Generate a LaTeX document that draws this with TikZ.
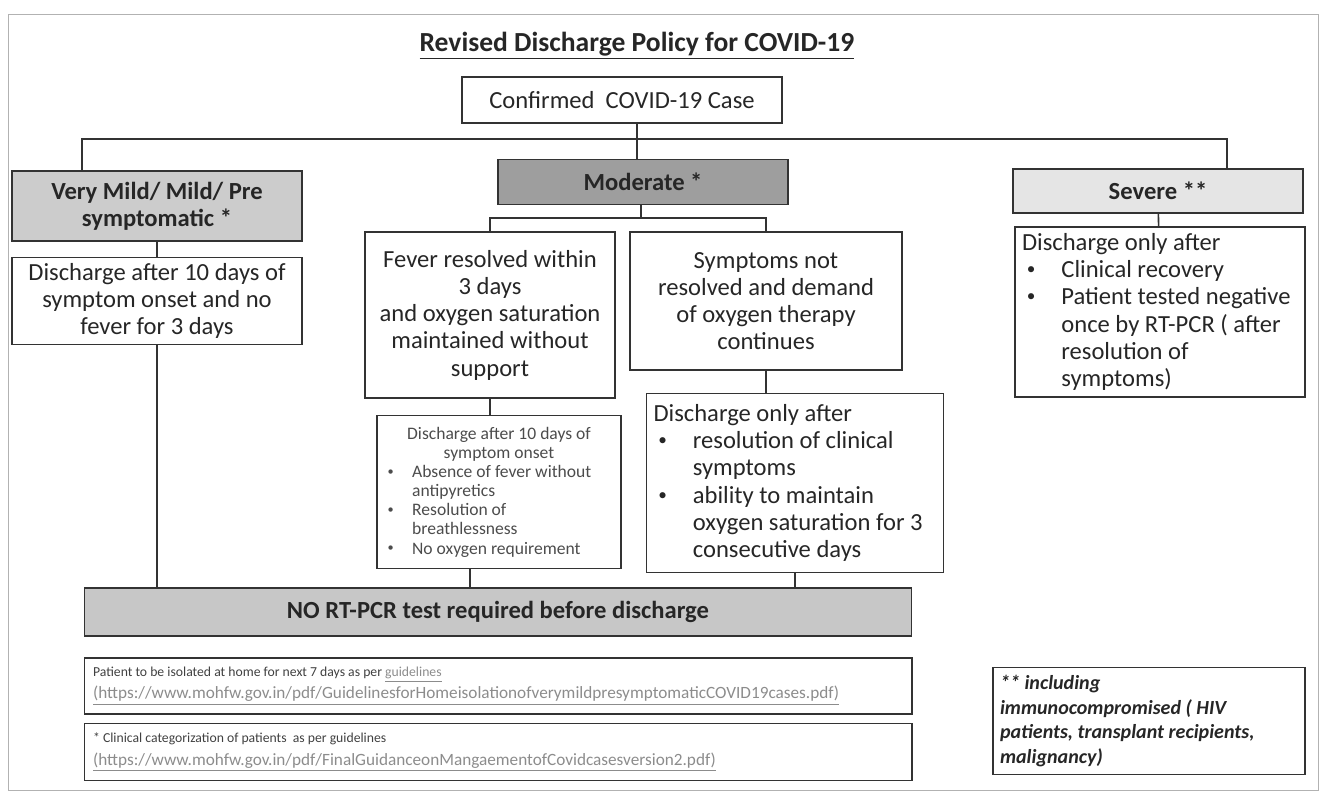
\documentclass[tikz,border=0pt]{standalone}
\usepackage{fontspec}
\setmainfont{Carlito}
\usetikzlibrary{positioning}
\newcommand{\bul}{\makebox[1.6em][l]{\hspace{0.2em}\raisebox{0.12em}{\scalebox{0.7}{\textbullet}}}}
\newcommand{\hang}{\hspace*{1.6em}}
\newcommand{\lft}[1]{\makebox[\hsize][l]{#1}}
\newcommand{\lnk}[1]{\textcolor{black!45}{\underline{#1}}}
\newcommand{\url}[1]{{\fontsize{9.8}{13}\selectfont\lnk{#1}}}

\begin{document}
\begin{tikzpicture}[x=0.02cm,y=-0.02cm,box/.style={draw=black!80,line width=0.9pt,align=flush center,inner xsep=4pt,inner ysep=2pt,text=black!85,font=\fontsize{14}{15.5}\selectfont},head/.style={box,font=\fontsize{14}{15.5}\selectfont\bfseries},small/.style={box,text=black!70,font=\fontsize{10}{10.9}\selectfont},ref/.style={box,align=flush left,inner sep=5pt,text=black!75,font=\fontsize{7.8}{13}\selectfont},conn/.style={draw=black!80,line width=0.9pt}]
\useasboundingbox (0,0) rectangle (1327,794);
\draw[black!30] (8,14) rectangle (1318,790);
\node[font=\fontsize{15.7}{18}\selectfont\bfseries,text=black!85] (title) at (637,46){\underline{Revised Discharge Policy for COVID-19}};
\node[box,minimum width=6.4cm,minimum height=0.92cm] (conf) at (622,100){Confirmed~ COVID-19 Case};
\node[head,fill=black!20,minimum width=5.8cm,minimum height=1.4cm] (mild) at (157,206){Very Mild/ Mild/ Pre\\symptomatic *};
\node[head,fill=black!38,minimum width=5.8cm,minimum height=0.9cm] (moder) at (643,182){Moderate *};
\node[head,fill=black!10,minimum width=5.8cm,minimum height=0.88cm] (sev) at (1158,191){Severe **};
\node[box,minimum width=5.8cm,minimum height=1.74cm] (mildout) at (157,301){Discharge after 10 days of\\symptom onset and no\\fever for 3 days};
\node[box,minimum width=5cm,minimum height=3.32cm] (fever) at (490,315){Fever resolved within\\3 days\\and oxygen saturation\\maintained without\\support};
\node[box,minimum width=5.44cm,minimum height=2.76cm] (sympt) at (766,301){Symptoms not\\resolved and demand\\of oxygen therapy\\continues};
\node[small,text width=4.6cm,minimum height=3.06cm] (modout1) at (499,492){Discharge after 10 days of\\symptom onset\\\lft{\bul Absence of fever without}\\\lft{\hang antipyretics}\\\lft{\bul Resolution of}\\\lft{\hang breathlessness}\\\lft{\bul No oxygen requirement}};
\node[box,align=flush left,text width=5.66cm,minimum height=3.58cm] (modout2) at (795,483){Discharge only after\\\bul resolution of clinical\\\hang symptoms\\\bul ability to maintain\\\hang oxygen saturation for 3\\\hang consecutive days};
\node[box,align=flush left,text width=5.52cm,minimum height=3.4cm] (sevout) at (1160,312){Discharge only after\\\bul Clinical recovery\\\bul Patient tested negative\\\hang once by RT-PCR ( after\\\hang resolution of\\\hang symptoms)};
\node[head,fill=black!22,minimum width=16.54cm,minimum height=0.96cm] (nortpcr) at (498,612){NO RT-PCR test required before discharge};
\node[ref,text width=16.2cm,minimum height=1.04cm] (isol) at (498,686){Patient to be isolated at home for next 7 days as per \lnk{guidelines}\\\url{(https://www.mohfw.gov.in/pdf/GuidelinesforHomeisolationofverymildpresymptomaticCOVID19cases.pdf)}};
\node[ref,text width=16.2cm,minimum height=1cm] (categ) at (498,752){* Clinical categorization of patients~ as per guidelines\\\url{(https://www.mohfw.gov.in/pdf/FinalGuidanceonMangaementofCovidcasesversion2.pdf)}};
\node[box,align=flush left,text width=5.96cm,minimum height=2.14cm,font=\fontsize{11.4}{14}\selectfont\bfseries\itshape] (note) at (1149,721){** including\\immunocompromised ( HIV\\patients, transplant recipients,\\malignancy)};
\coordinate (lt) at (82,139); \coordinate (rt) at (1227,139); \coordinate (ctr) at (637,139); \coordinate (mj) at (641,218);
\draw[conn] (conf.south -| ctr) -- (moder.north -| ctr); \draw[conn] (lt |- mild.north) |- (rt) -- (rt |- sev.north); \draw[conn] (mild) -- (mildout); \draw[conn] (mildout) -- (mildout.south |- nortpcr.north); \draw[conn] (moder.south -| mj) -- (mj); \draw[conn] (fever.north) |- (mj) -| (sympt.north); \draw[conn] (fever) -- (fever.south |- modout1.north); \draw[conn] (sympt) -- (sympt.south |- modout2.north); \draw[conn] ([xshift=-0.58cm]modout1.south) -- ([xshift=-0.58cm]modout1.south |- nortpcr.north); \draw[conn] (modout2) -- (modout2.south |- nortpcr.north); \draw[conn] (sev) -- (sevout);
\end{tikzpicture}
\end{document}
